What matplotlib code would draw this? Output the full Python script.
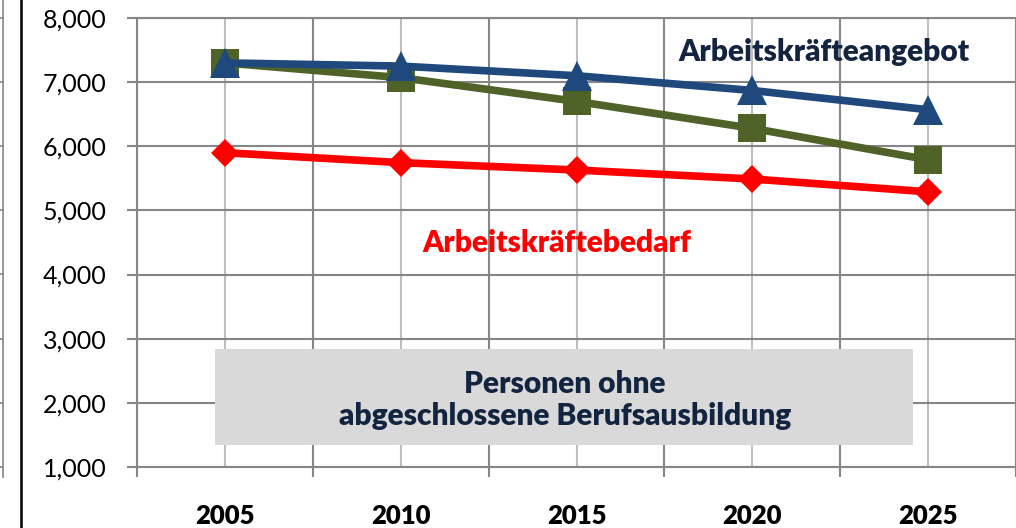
import matplotlib
matplotlib.use("Agg")
import matplotlib.pyplot as plt
from matplotlib.lines import Line2D
from matplotlib.patches import Rectangle

plt.rcParams['font.family'] = ['Lato', 'DejaVu Sans']

years = ["2005", "2010", "2015", "2020", "2025"]
angebot_blue = [7300, 7250, 7100, 6870, 6570]
angebot_green = [7300, 7070, 6700, 6280, 5790]
bedarf_red = [5900, 5745, 5630, 5490, 5290]
y_ticks = [1000, 2000, 3000, 4000, 5000, 6000, 7000, 8000]
y_tick_labels = ["1,000", "2,000", "3,000", "4,000", "5,000", "6,000", "7,000", "8,000"]

W, H = 1016, 528
fig = plt.figure(figsize=(W / 100, H / 100), dpi=100)
ax = fig.add_axes([137 / W, 1 - 467 / H, (W - 137) / W, (467 - 18) / H])

x = list(range(len(years)))
dark = "#868686"
light = "#BEBEBE"
heavy = 'heavy'

ax.set_xlim(-0.5, len(years) - 0.5)
ax.set_ylim(1000, 8000)

ax.set_xticks(x)
ax.set_xticklabels(years, fontsize=18.5, fontweight=heavy, color='black')
ax.set_xticks([i - 0.5 for i in range(len(years) + 1)], minor=True)
ax.tick_params(axis='x', which='major', length=0, pad=27)
ax.tick_params(axis='x', which='minor', length=7, width=1.5, color=dark, direction='out')
ax.set_yticks(y_ticks)
ax.set_yticklabels(y_tick_labels, fontsize=18, color='black')
ax.tick_params(axis='y', length=7, width=1.5, color=dark, direction='out', pad=15)

ax.grid(axis='x', which='major', color=light, linewidth=1.5)
ax.grid(axis='x', which='minor', color=dark, linewidth=1.5)
ax.grid(axis='y', which='major', color=dark, linewidth=1.5)
ax.set_axisbelow(True)
for s in ['left', 'bottom', 'top']:
    ax.spines[s].set_color(dark)
    ax.spines[s].set_linewidth(1.5)
ax.spines['right'].set_visible(False)

ax.plot(x, bedarf_red, color='#FF0000', linewidth=5.5, marker='D', markersize=14,
        markeredgewidth=0, zorder=3)
ax.plot(x, angebot_green, color='#4F6228', linewidth=5.5, marker='s', markersize=19.5,
        markeredgewidth=0, zorder=4)
ax.plot(x, angebot_blue, color='#1F497D', linewidth=5.5, marker='^', markersize=22,
        markeredgewidth=0, zorder=5)

navy = "#132440"
fig.text(824 / W, 1 - 52 / H, "Arbeitskräfteangebot", ha='center', va='center',
         fontsize=21.5, fontweight=heavy, color=navy)
fig.text(557 / W, 1 - 243 / H, "Arbeitskräftebedarf", ha='center', va='center',
         fontsize=21.5, fontweight=heavy, color='#FF0000')

ax.add_patch(Rectangle((0.0887, 0.049), 0.794, 0.214, transform=ax.transAxes,
                       facecolor='#D9D9D9', edgecolor='none', zorder=2))
fig.text(565 / W, 1 - 400 / H, "Personen ohne\nabgeschlossene Berufsausbildung",
         ha='center', va='center', fontsize=21.5, fontweight=heavy, color=navy,
         linespacing=1.2, zorder=6)

# neighbouring chart fragments on the left edge
fig.add_artist(Line2D([20.5 / W, 20.5 / W], [0, 1], transform=fig.transFigure,
                      color='black', linewidth=1.8))
fig.add_artist(Line2D([3 / W, 3 / W], [1 - 477 / H, 1], transform=fig.transFigure,
                      color=dark, linewidth=1.2))
for yp in [18, 82, 146, 210, 274, 339, 403, 467]:
    fig.add_artist(Line2D([0, 3 / W], [1 - yp / H, 1 - yp / H], transform=fig.transFigure,
                          color=dark, linewidth=1.2))

fig.savefig("out.png", dpi=100)
